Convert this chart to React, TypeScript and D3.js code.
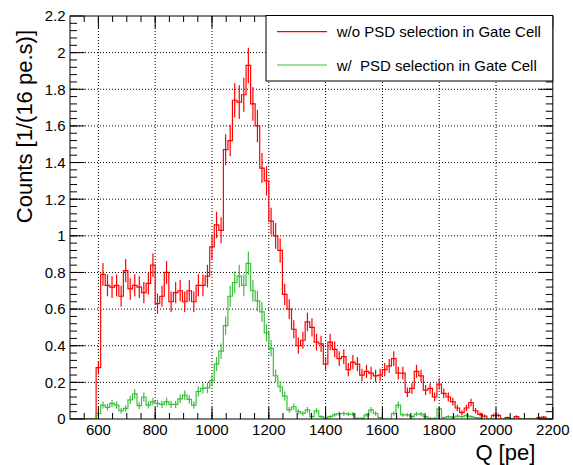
import React from "react";
import * as d3 from "d3";

// ---- data (bins of 16 pe starting at 592 pe) ----
const binStart = 592;
const binWidth = 16;

const redCounts = [
  0.28, 0.79, 0.73, 0.72, 0.73, 0.67, 0.81, 0.71, 0.73, 0.72,
  0.69, 0.74, 0.84, 0.63, 0.67, 0.80, 0.64, 0.69, 0.70, 0.64,
  0.70, 0.64, 0.73, 0.73, 0.78, 0.94, 1.06, 1.03, 1.47, 1.52,
  1.74, 1.73, 1.77, 1.93, 1.72, 1.60, 1.37, 1.30, 1.08, 1.00,
  0.92, 0.68, 0.60, 0.49, 0.40, 0.43, 0.53, 0.50, 0.42, 0.41,
  0.30, 0.42, 0.38, 0.33, 0.34, 0.27, 0.31, 0.30, 0.24, 0.26,
  0.25, 0.235, 0.24, 0.27, 0.29, 0.33, 0.25, 0.25, 0.145, 0.167,
  0.26, 0.235, 0.158, 0.167, 0.12, 0.19, 0.14, 0.12, 0.095, 0.06,
  0.035, 0.06, 0.09, 0.045, 0.025, 0.016, 0, 0.02, 0.02, 0,
  0.008, 0, 0.013, 0, 0, 0, 0, 0.008, 0.01, 0, 0,
];

const greenCounts = [
  0.03, 0.076, 0.064, 0.085, 0.076, 0.045, 0.058, 0.104, 0.137, 0.073,
  0.12, 0.076, 0.095, 0.085, 0.08, 0.095, 0.08, 0.08, 0.11, 0.13,
  0.107, 0.076, 0.15, 0.167, 0.17, 0.21, 0.30, 0.37, 0.51, 0.67,
  0.745, 0.78, 0.73, 0.85, 0.70, 0.645, 0.585, 0.47, 0.386, 0.236,
  0.176, 0.125, 0.05, 0.067, 0.04, 0.03, 0.05, 0.013, 0.045, 0.013,
  0.005, 0.013, 0.022, 0.03, 0.03, 0.027, 0.027, 0.004, 0.004, 0.022,
  0.05, 0.03, 0.007, 0, 0, 0.03, 0.076, 0.022, 0.022, 0.013,
  0.027, 0.027, 0.013, 0.004, 0.004, 0.055, 0.007, 0.013, 0.01, 0.016,
  0.013, 0.02, 0.013, 0.007, 0.005, 0, 0, 0, 0, 0,
  0, 0, 0, 0, 0, 0, 0, 0, 0, 0, 0,
];

const xTickLabels = [600, 800, 1000, 1200, 1400, 1600, 1800, 2000, 2200];
const yTickLabels = [0, 0.2, 0.4, 0.6, 0.8, 1, 1.2, 1.4, 1.6, 1.8, 2, 2.2];

const legendLabels = ["w/o PSD selection in Gate Cell", "w/  PSD selection in Gate Cell"];
const RED = "#ff0000";
const GREEN = "#3cbf3c";
const FONT = "'Liberation Sans', Arial, Helvetica, sans-serif";

const W = 573;
const H = 465;
const L = 70, R = 552.8, T = 16, B = 419;

export default function App() {
  const x = d3.scaleLinear().domain([500, 2200]).range([L, R]);
  const y = d3.scaleLinear().domain([0, 2.2]).range([B, T]);

  const histPath = (vals: number[]) => {
    const pts: [number, number][] = [[500, 0]];
    vals.forEach((v, i) => pts.push([binStart + i * binWidth, v]));
    pts.push([binStart + vals.length * binWidth, vals[vals.length - 1]]);
    return d3
      .line<[number, number]>()
      .x((d) => x(d[0]))
      .y((d) => y(d[1]))
      .curve(d3.curveStepAfter)(pts) as string;
  };

  const errBars = (vals: number[], color: string) =>
    vals.map((v, i) => {
      if (v <= 0) return null;
      const e = 0.07 * Math.sqrt(v);
      const cx = x(binStart + (i + 0.5) * binWidth);
      return (
        <line key={i} x1={cx} x2={cx} y1={y(v - e)} y2={y(Math.min(v + e, 2.2))} stroke={color} strokeWidth={1.2} />
      );
    });

  const xMinor = d3.range(550, 2200, 50);
  const yMinor = d3.range(0.04, 2.2, 0.04);
  const xGrid = d3.range(600, 2001, 200);
  const yGrid = d3.range(0.2, 2.01, 0.2);

  return (
    <svg width={W} height={H} style={{ position: "absolute", left: 0, top: 0, background: "#fff" }} fontFamily={FONT}>
      <rect x={0} y={0} width={W} height={H} fill="#fff" />
      <defs>
        <clipPath id="plot">
          <rect x={L} y={T} width={R - L} height={B - T} />
        </clipPath>
      </defs>
      {/* grid */}
      <g stroke="#000" strokeWidth={1} strokeDasharray="1,2">
        {xGrid.map((v) => (
          <line key={"gx" + v} x1={x(v)} x2={x(v)} y1={T} y2={B} />
        ))}
        {yGrid.map((v) => (
          <line key={"gy" + v} x1={L} x2={R} y1={y(v)} y2={y(v)} />
        ))}
      </g>
      {/* histograms */}
      <g clipPath="url(#plot)">
        <path d={histPath(redCounts)} fill="none" stroke={RED} strokeWidth={1.2} />
        {errBars(redCounts, RED)}
        <path d={histPath(greenCounts)} fill="none" stroke={GREEN} strokeWidth={1.2} />
        {errBars(greenCounts, GREEN)}
      </g>
      {/* frame */}
      <rect x={L} y={T} width={R - L} height={B - T} fill="none" stroke="#000" strokeWidth={1} />
      {/* ticks */}
      <g stroke="#000" strokeWidth={1}>
        {xTickLabels.map((v) => (
          <g key={"xt" + v}>
            <line x1={x(v)} x2={x(v)} y1={B} y2={B - 12} />
            <line x1={x(v)} x2={x(v)} y1={T} y2={T + 12} />
          </g>
        ))}
        {xMinor.map((v) => (
          <g key={"xm" + v}>
            <line x1={x(v)} x2={x(v)} y1={B} y2={B - 6} />
            <line x1={x(v)} x2={x(v)} y1={T} y2={T + 6} />
          </g>
        ))}
        {yTickLabels.map((v) => (
          <g key={"yt" + v}>
            <line x1={L} x2={L + 14.5} y1={y(v)} y2={y(v)} />
            <line x1={R} x2={R - 14.5} y1={y(v)} y2={y(v)} />
          </g>
        ))}
        {yMinor.map((v, i) => (
          <g key={"ym" + i}>
            <line x1={L} x2={L + 7} y1={y(v)} y2={y(v)} />
            <line x1={R} x2={R - 7} y1={y(v)} y2={y(v)} />
          </g>
        ))}
      </g>
      {/* tick labels */}
      <g fontSize={15} fill="#000">
        {xTickLabels.map((v) => (
          <text key={"xl" + v} x={x(v)} y={435} textAnchor="middle">
            {v}
          </text>
        ))}
        {yTickLabels.map((v) => (
          <text key={"yl" + v} x={65.5} y={y(v) + 5.4} textAnchor="end">
            {String(+v.toFixed(1))}
          </text>
        ))}
      </g>
      {/* axis titles */}
      <text x={R - 17.5} y={460} textAnchor="end" fontSize={22} fill="#000">
        Q [pe]
      </text>
      <text transform="translate(32,30) rotate(-90)" textAnchor="end" fontSize={22} fill="#000">
        Counts [1/(16 pe.s)]
      </text>
      {/* legend */}
      <rect x={266} y={15.5} width={R - 266} height={65.5} fill="#fff" stroke="#000" strokeWidth={1} />
      <line x1={277} x2={327} y1={31.7} y2={31.7} stroke={RED} strokeWidth={1.2} />
      <line x1={277} x2={327} y1={65} y2={65} stroke={GREEN} strokeWidth={1.2} />
      <text x={336.7} y={37.3} fontSize={15} fill="#000" style={{ whiteSpace: "pre" }}>
        {legendLabels[0]}
      </text>
      <text x={336.7} y={71} fontSize={15} fill="#000" style={{ whiteSpace: "pre" }}>
        {legendLabels[1]}
      </text>
    </svg>
  );
}
